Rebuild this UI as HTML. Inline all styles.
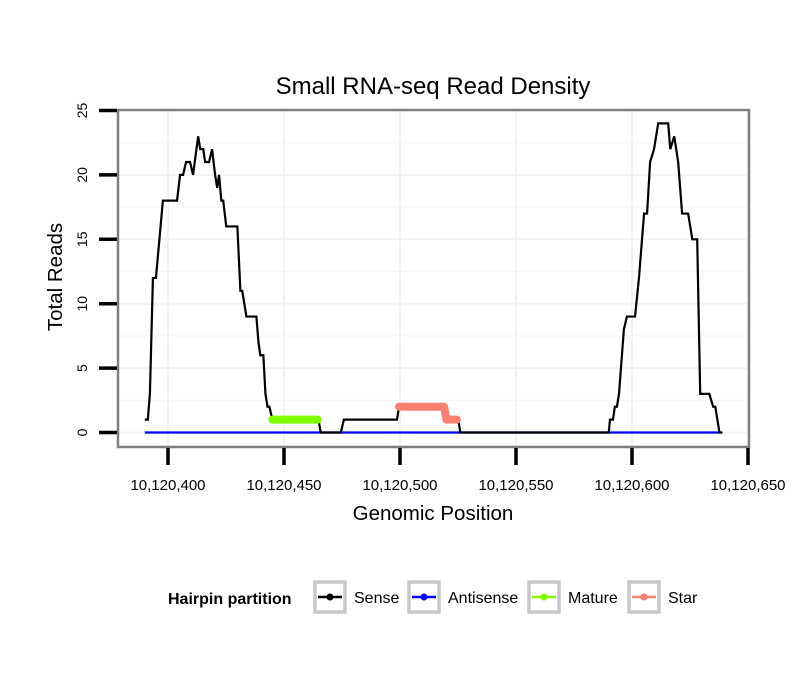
<!DOCTYPE html>
<html><head><meta charset="utf-8"><style>
body{margin:0;background:#fff;}
svg text{font-family:"Liberation Sans",sans-serif;}
</style></head><body>
<svg id="chart" width="810" height="690" xmlns="http://www.w3.org/2000/svg">
<rect width="810" height="690" fill="#fff"/>
<text x="433" y="94" font-size="24" text-anchor="middle">Small RNA-seq Read Density</text>
<g id="grid"></g>
<g id="series"></g>
<rect x="118" y="110" width="631" height="337" fill="none" stroke="#7f7f7f" stroke-width="2.5"/>
<g id="axes"></g>
<text x="433" y="520" font-size="20.5" text-anchor="middle">Genomic Position</text>
<text transform="translate(62,277) rotate(-90)" font-size="20.5" text-anchor="middle">Total Reads</text>
<g>
<text x="168" y="604" font-size="16" font-weight="bold">Hairpin partition</text>
<g id="legend"></g>
</g>
</svg>
<script>
const xTicks=[10120400,10120450,10120500,10120550,10120600,10120650];
const xTickLabels=["10,120,400","10,120,450","10,120,500","10,120,550","10,120,600","10,120,650"];
const yTicks=[0,5,10,15,20,25];
const senseOffsets=[390,391.3,392.2,393.5,394.8,397.8,403.9,405.2,406.5,407.8,409.5,410.8,413,413.9,415.2,416,417.7,419,420.3,421.2,422,423,423.8,425.1,429.9,431.2,432,433.8,438.1,439,439.8,441.1,442,442.9,443.7,445,464.9,465.8,474.5,475.8,498.7,499.6,519,520,525.1,526,590,590.5,591.8,592.6,593.5,594.4,596.5,597.8,601.3,603,605.2,606.5,607.8,609.5,611.3,615.6,616.5,618.2,619.9,621.6,624.2,626,628.1,629.4,633.3,635,635.9,637.7,639];
const senseValues=[1,1,3,12,12,18,18,20,20,21,21,20,23,22,22,21,21,22,20,19,20,18,18,16,16,11,11,9,9,7,6,6,3,2,2,1,1,0,0,1,1,2,2,1,1,0,0,1,1,2,2,3,8,9,9,12,17,17,21,22,24,24,22,23,21,17,17,15,15,3,3,2,2,0,0];
const antisenseOffsets=[390,637.7];
const antisenseValues=[0,0];
const matureOffsets=[445,446.5,448,449.5,451,452.5,454,455.5,457,458.5,460,461.5,463,464.5];
const matureValues=[1,1,1,1,1,1,1,1,1,1,1,1,1,1];
const starOffsets=[499.6,501,502.5,504,505.5,507,508.5,510,511.5,513,514.5,516,517.5,519,520,521.5,523,524.5];
const starValues=[2,2,2,2,2,2,2,2,2,2,2,2,2,2,1,1,1,1];
const BASE=10120000;
const NS="http://www.w3.org/2000/svg";
function xs(p){return 168+(p-10120400)*2.32;}
function ys(v){return 432.5-v*12.88;}
function mk(tag,attrs,parent){const e=document.createElementNS(NS,tag);for(const k in attrs)e.setAttribute(k,attrs[k]);parent.appendChild(e);return e;}
const grid=document.getElementById('grid'),axes=document.getElementById('axes'),series=document.getElementById('series'),legend=document.getElementById('legend');
for(let i=0;i<yTicks.length;i++){
 const y=ys(yTicks[i]);
 const g=mk('line',{x1:118,x2:749,y1:y,y2:y,stroke:'#f2f2f2','stroke-width':2},grid);
 
 
 const h=ys(yTicks[i]+2.5);
 if(yTicks[i]<25){const m=mk('line',{x1:118,x2:749,y1:h,y2:h,stroke:'#f7f7f7','stroke-width':1.5},grid);
 
 }
 const t=mk('line',{x1:99,x2:117,y1:y,y2:y,stroke:'#000','stroke-width':3.5},axes);
 
 
 const l=mk('text',{transform:`translate(87,${y}) rotate(-90)`,'font-size':14,'text-anchor':'middle'},axes);
 l.textContent=yTicks[i];
 
 
}
for(let i=0;i<xTicks.length;i++){
 const x=xs(xTicks[i]);
 const g=mk('line',{x1:x,x2:x,y1:110,y2:447,stroke:'#f2f2f2','stroke-width':2},grid);
 
 
 const t=mk('line',{x1:x,x2:x,y1:448,y2:465,stroke:'#000','stroke-width':3.5},axes);
 
 
 const l=mk('text',{x:x,y:490,'font-size':15,'text-anchor':'middle'},axes);
 l.textContent=xTickLabels[i];
 
 
}
function pts(offs,vals){return offs.map((o,i)=>xs(BASE+o)+','+ys(vals[i])).join(' ');}
const a=mk('polyline',{points:pts(antisenseOffsets,antisenseValues),fill:'none',stroke:'#0000ff','stroke-width':2.2},series);


const s=mk('polyline',{points:pts(senseOffsets,senseValues),fill:'none',stroke:'#000','stroke-width':2.2},series);


const m=mk('polyline',{points:pts(matureOffsets,matureValues),fill:'none',stroke:'#7fff00','stroke-width':8,'stroke-linecap':'round','stroke-linejoin':'round'},series);


const st=mk('polyline',{points:pts(starOffsets,starValues),fill:'none',stroke:'#fa8072','stroke-width':8,'stroke-linecap':'round','stroke-linejoin':'round'},series);


const legItems=[["Sense","#000",313,354],["Antisense","#0000ff",407,448],["Mature","#7fff00",527,568],["Star","#fa8072",627,668]];
legItems.forEach(([name,col,bx,tx])=>{
 const g=mk('g',{},legend);
 
 
 mk('rect',{x:bx+2,y:582,width:30,height:30,fill:'#fff',stroke:'#c8c8c8','stroke-width':3.5},g);
 mk('line',{x1:bx+5,x2:bx+29,y1:597,y2:597,stroke:col,'stroke-width':2.5},g);
 mk('circle',{cx:bx+17,cy:597,r:3.5,fill:col},g);
 const t=mk('text',{x:tx,y:603,'font-size':16},g);
 t.textContent=name;
});
</script>
</body></html>
